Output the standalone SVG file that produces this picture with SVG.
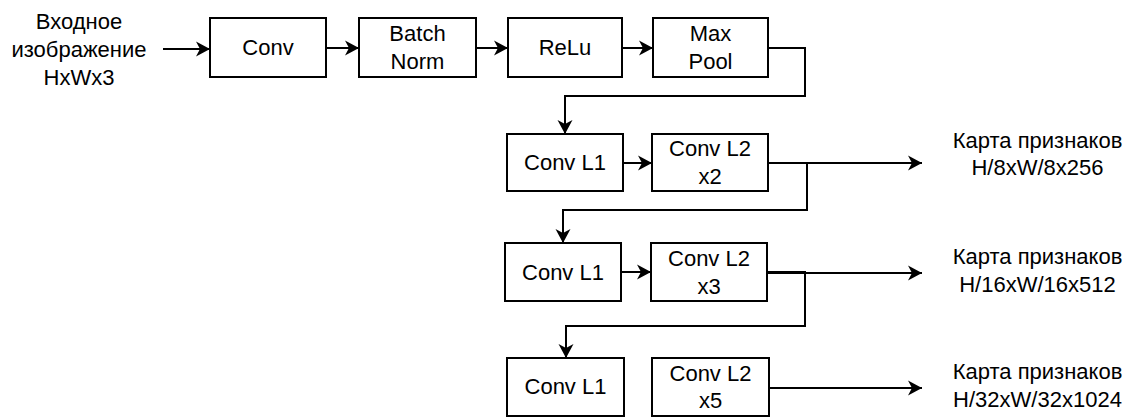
<svg xmlns="http://www.w3.org/2000/svg" width="1133" height="417" viewBox="0 0 1133 417">
<style>
.box{fill:#fff;stroke:#000;stroke-width:2}
.t{font-family:"Liberation Sans",Arial,sans-serif;font-size:22px;fill:#000;text-anchor:middle}
.c{fill:none;stroke:#000;stroke-width:2}
</style>
<defs>
<marker id="ah" markerUnits="userSpaceOnUse" markerWidth="18" markerHeight="18" viewBox="-16 -9 18 18" refX="0" refY="0" orient="auto">
<path d="M0,0 L-14,-7.5 L-10,0 L-14,7.5 Z" fill="#000"/>
</marker>
</defs>
<rect width="1133" height="417" fill="#fff"/>
<g id="connectors">
<path class="c" d="M163,49 L210,49" marker-end="url(#ah)"/>
<path class="c" d="M326,48 L359,48" marker-end="url(#ah)"/>
<path class="c" d="M476,48 L508,48" marker-end="url(#ah)"/>
<path class="c" d="M622,48 L653,48" marker-end="url(#ah)"/>
<path class="c" d="M768,48 L805,48 L805,96 L565,96 L565,134" marker-end="url(#ah)"/>
<path class="c" d="M623,163 L652,163" marker-end="url(#ah)"/>
<path class="c" d="M768,163 L922,163" marker-end="url(#ah)"/>
<path class="c" d="M768,163 L807,163 L807,210 L563,210 L563,243" marker-end="url(#ah)"/>
<path class="c" d="M621,272 L651,272" marker-end="url(#ah)"/>
<path class="c" d="M767,273 L922,273" marker-end="url(#ah)"/>
<path class="c" d="M767,272 L805,272 L805,326 L566,326 L566,358" marker-end="url(#ah)"/>
<path class="c" d="M769,388 L922,388" marker-end="url(#ah)"/>
</g>
<g id="input"><text class="t" x="79" y="29">Входное</text><text class="t" x="79" y="57">изображение</text><text class="t" x="79" y="85">HxWx3</text></g>
<g id="conv"><rect class="box" x="210" y="18" width="116" height="59"/><text class="t" x="268" y="55">Conv</text></g>
<g id="batchnorm"><rect class="box" x="359" y="18" width="117" height="59"/><text class="t" x="417.5" y="41">Batch</text><text class="t" x="417.5" y="69">Norm</text></g>
<g id="relu"><rect class="box" x="508" y="18" width="114" height="59"/><text class="t" x="565" y="55">ReLu</text></g>
<g id="maxpool"><rect class="box" x="653" y="18" width="115" height="59"/><text class="t" x="710.5" y="41">Max</text><text class="t" x="710.5" y="69">Pool</text></g>
<g id="convl1a"><rect class="box" x="507" y="134" width="116" height="57"/><text class="t" x="565" y="170">Conv L1</text></g>
<g id="convl2a"><rect class="box" x="652" y="134" width="116" height="57"/><text class="t" x="710" y="156">Conv L2</text><text class="t" x="710" y="184">x2</text></g>
<g id="convl1b"><rect class="box" x="505" y="243" width="116" height="58"/><text class="t" x="563" y="280">Conv L1</text></g>
<g id="convl2b"><rect class="box" x="651" y="243" width="116" height="58"/><text class="t" x="709" y="266">Conv L2</text><text class="t" x="709" y="294">x3</text></g>
<g id="convl1c"><rect class="box" x="507" y="358" width="117" height="58"/><text class="t" x="565.5" y="394">Conv L1</text></g>
<g id="convl2c"><rect class="box" x="652" y="358" width="117" height="58"/><text class="t" x="710.5" y="381">Conv L2</text><text class="t" x="710.5" y="408">x5</text></g>
<g id="out1"><text class="t" x="1037.5" y="148">Карта признаков</text><text class="t" x="1037.5" y="175">H/8xW/8x256</text></g>
<g id="out2"><text class="t" x="1037.5" y="264">Карта признаков</text><text class="t" x="1037.5" y="292">H/16xW/16x512</text></g>
<g id="out3"><text class="t" x="1037.5" y="379">Карта признаков</text><text class="t" x="1037.5" y="407">H/32xW/32x1024</text></g>
</svg>
